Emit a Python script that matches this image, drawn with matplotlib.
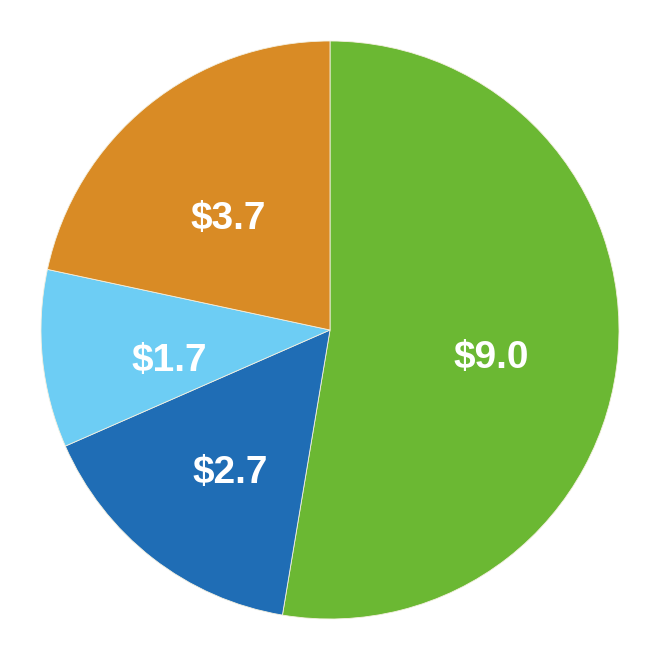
import matplotlib.pyplot as plt
from matplotlib import font_manager

# slice values (billions), clockwise from 12 o'clock
labels = ["$9.0", "$2.7", "$1.7", "$3.7"]
values = [9.0, 2.7, 1.7, 3.7]
colors = ["#6BB833", "#1F6DB5", "#6DCDF4", "#D98B25"]

# pick a narrow bold face if one is around
names = {f.name for f in font_manager.fontManager.ttflist}
family = ["Liberation Sans Narrow", "Liberation Sans", "DejaVu Sans"]
family = [f for f in family if f in names] or ["DejaVu Sans"]

fig = plt.figure(figsize=(6.58, 6.60), dpi=100)
ax = fig.add_axes([0, 0, 1, 1])

wedges, texts = ax.pie(
    values,
    labels=labels,
    colors=colors,
    startangle=90,
    counterclock=False,
    labeldistance=0.56,
    wedgeprops=dict(edgecolor="#f4f0e0", linewidth=0.6),
    textprops=dict(color="white", fontsize=28, fontweight="bold",
                   family=family, ha="center", va="center"),
)

# pie centre at (330, 330) px, radius ~289 px
r = 289.0
ax.set_aspect("auto")
ax.set_xlim(-330 / r, 328 / r)
ax.set_ylim(-330 / r, 330 / r)
ax.axis("off")

# labels sit a little lower than the slice midline
for t in texts:
    x, y = t.get_position()
    t.set_position((x, y - 15 / r))

fig.savefig("out.png", dpi=100, facecolor="white")
